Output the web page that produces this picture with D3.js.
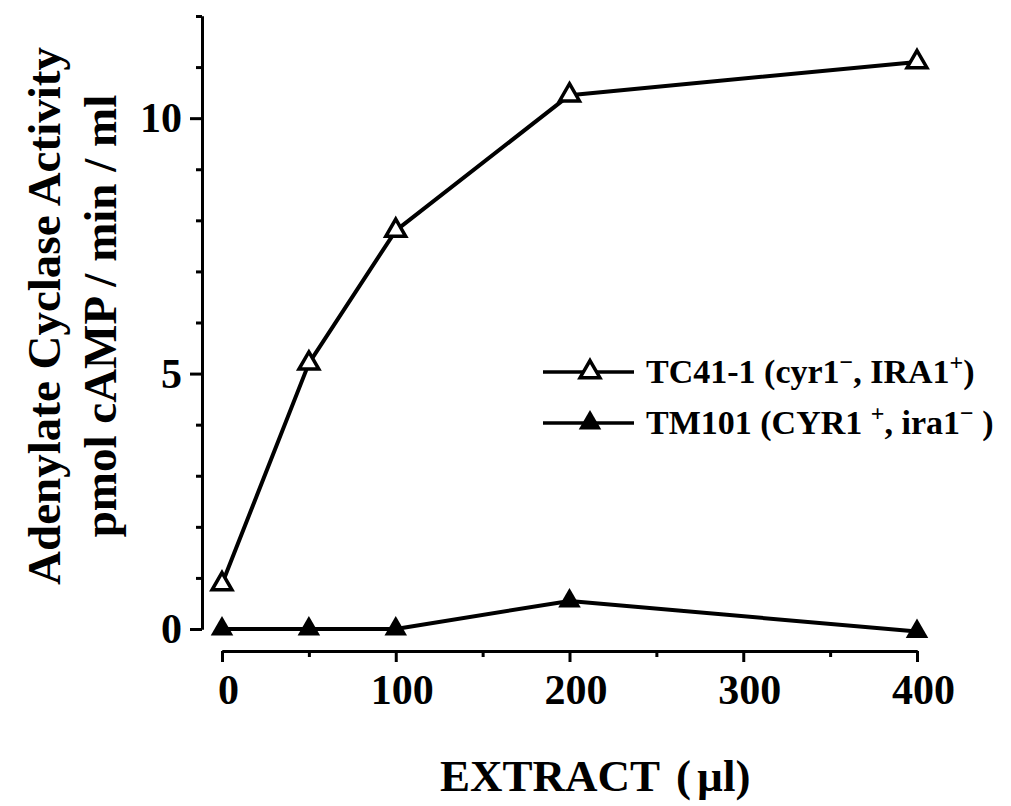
<html>
    <head>
        <script src="https://d3js.org/d3.v7.min.js"></script>
        <style>
            body{
                margin: 0;
                background: #fff;
            }
            svg{
                font-family: "Liberation Serif", "Times New Roman", serif;
                font-weight: bold;
            }
            .axis path, .axis line{
                stroke: #000;
                stroke-width: 3px;
            }
            .axis text{
                font-family: "Liberation Serif", serif;
                font-weight: bold;
                font-size: 42px;
                fill: #000;
            }
        </style>
    </head>
    <body>
        <svg id="chart"></svg>

        <script>
            // data
            const extract = [0, 50, 100, 200, 400];
            const tc41 = [0.88, 5.2, 7.8, 10.45, 11.1];
            const tm101 = [0, 0, 0, 0.55, -0.05];

            const xMajor = [0, 100, 200, 300, 400];
            const xMinor = [50, 150, 250, 350];
            const yMajor = [0, 5, 10];
            const yMinor = [1, 2, 3, 4, 6, 7, 8, 9, 11, 12];

            const seriesNames = ["TC41-1", "TM101"];

            const width = 1011, height = 806;

            const svg = d3.select("#chart")
                .attr("width", width)
                .attr("height", height);

            svg.append("rect")
                .attr("width", width)
                .attr("height", height)
                .attr("fill", "#fff");

            const x = d3.scaleLinear().domain([0, 400]).range([222, 917]);
            const y = d3.scaleLinear().domain([0, 12]).range([629, 16]);

            // y axis (major + minor ticks)
            svg.append("g")
                .attr("class", "axis")
                .attr("transform", "translate(202,0)")
                .call(d3.axisLeft(y).tickValues(yMajor).tickSize(12).tickSizeOuter(0).tickPadding(8).tickFormat(d3.format("d")));
            svg.append("g")
                .attr("class", "axis")
                .attr("transform", "translate(202,0)")
                .call(d3.axisLeft(y).tickValues(yMinor).tickSize(6).tickSizeOuter(0).tickFormat(""));

            // x axis (major + minor ticks)
            svg.append("g")
                .attr("class", "axis")
                .attr("transform", "translate(0,651)")
                .call(d3.axisBottom(x).tickValues(xMajor).tickSize(11).tickSizeOuter(0).tickPadding(12).tickFormat(d3.format("d")))
                .selectAll("text")
                .attr("dx", 6);
            svg.append("g")
                .attr("class", "axis")
                .attr("transform", "translate(0,651)")
                .call(d3.axisBottom(x).tickValues(xMinor).tickSize(6).tickSizeOuter(0).tickFormat(""));

            // axis titles
            svg.append("text")
                .attr("transform", "translate(60,316) rotate(-90)")
                .attr("text-anchor", "middle")
                .style("font-size", "47px")
                .text("Adenylate Cyclase Activity");

            svg.append("text")
                .attr("transform", "translate(116,316) rotate(-90)")
                .attr("text-anchor", "middle")
                .style("font-size", "47px")
                .text("pmol cAMP / min / ml");

            const xTitle = svg.append("text")
                .attr("x", 440)
                .attr("y", 791)
                .style("font-size", "45px");
            xTitle.append("tspan").text("EXTRACT");
            xTitle.append("tspan").attr("dx", 16).text("(");
            xTitle.append("tspan").attr("dx", 6).text("\u00b5l)");

            // lines
            const line = d3.line()
                .x((d, i) => x(extract[i]))
                .y(d => y(d));

            [tc41, tm101].forEach(vals => {
                svg.append("path")
                    .datum(vals)
                    .attr("d", line)
                    .attr("fill", "none")
                    .attr("stroke", "#000")
                    .attr("stroke-width", 4)
                    .attr("stroke-linejoin", "round");
            });

            const openTri = d3.symbol(d3.symbolTriangle, 170);
            const fullTri = d3.symbol(d3.symbolTriangle, 220);

            svg.selectAll(".open")
                .data(tc41)
                .join("path")
                .attr("class", "open")
                .attr("transform", (d, i) => `translate(${x(extract[i])},${y(d)})`)
                .attr("d", openTri)
                .attr("fill", "#fff")
                .attr("stroke", "#000")
                .attr("stroke-width", 3.5);

            svg.selectAll(".full")
                .data(tm101)
                .join("path")
                .attr("class", "full")
                .attr("transform", (d, i) => `translate(${x(extract[i])},${y(d)})`)
                .attr("d", fullTri)
                .attr("fill", "#000");

            // legend
            const legend = svg.append("g");
            const legendY = [372, 423];

            seriesNames.forEach((name, i) => {
                const g = legend.append("g").attr("transform", `translate(0,${legendY[i]})`);
                g.append("line")
                    .attr("x1", 543).attr("x2", 634)
                    .attr("stroke", "#000")
                    .attr("stroke-width", 3.5);
                g.append("path")
                    .attr("transform", "translate(590,0)")
                    .attr("d", i === 0 ? openTri : fullTri)
                    .attr("fill", i === 0 ? "#fff" : "#000")
                    .attr("stroke", i === 0 ? "#000" : "none")
                    .attr("stroke-width", 3.5);

                const t = g.append("text")
                    .attr("x", 646)
                    .attr("y", 11)
                    .style("font-size", "34px");
                if (i === 0) {
                    t.append("tspan").text(name + " (cyr1");
                    t.append("tspan").attr("dy", -13).style("font-size", "24px").text("\u2212");
                    t.append("tspan").attr("dy", 13).text(", IRA1");
                    t.append("tspan").attr("dy", -13).style("font-size", "24px").text("+");
                    t.append("tspan").attr("dy", 13).text(")");
                } else {
                    t.append("tspan").text(name + " (CYR1 ");
                    t.append("tspan").attr("dy", -13).style("font-size", "24px").text("+");
                    t.append("tspan").attr("dy", 13).text(", ira1");
                    t.append("tspan").attr("dy", -13).style("font-size", "24px").text("\u2212");
                    t.append("tspan").attr("dy", 13).text(" )");
                }
            });
        </script>
    </body>
</html>
